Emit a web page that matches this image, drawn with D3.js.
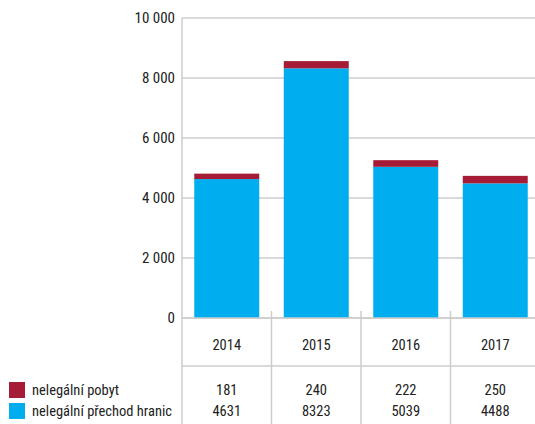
<!DOCTYPE html>
<html>
<head>
<meta charset="utf-8">
<script src="https://cdn.jsdelivr.net/npm/d3@7"></script>
<style>
  html, body { margin: 0; padding: 0; background: #fff; }
  svg { display: block; font-family: "Liberation Sans Narrow", "Roboto Condensed", "DejaVu Sans Condensed", sans-serif; }
</style>
</head>
<body>
<svg id="chart" width="535" height="424"></svg>
<script>
// Illegal migration by year: stacked bars with a data table beneath
const years = ["2014", "2015", "2016", "2017"];
const seriesNames = ["nelegální přechod hranic", "nelegální pobyt"];
const border = [4631, 8323, 5039, 4488];   // nelegální přechod hranic
const stay = [181, 240, 222, 250];         // nelegální pobyt
const yTicks = [0, 2000, 4000, 6000, 8000, 10000];
const colors = ["#00adee", "#a61c36"];

const svg = d3.select("#chart");
const plotLeft = 182, plotRight = 540, plotTop = 18, plotBottom = 318;

const x = d3.scaleBand().domain(years).range([plotLeft, plotRight]).paddingInner(0.274).paddingOuter(0.137);
const y = d3.scaleLinear().domain([0, 10000]).range([plotBottom, plotTop]);

const gridColor = "#cccccc";

// gridlines and y labels
const grid = svg.append("g");
grid.selectAll("line").data(yTicks).join("line")
  .attr("x1", plotLeft).attr("x2", 535)
  .attr("y1", d => y(d)).attr("y2", d => y(d))
  .attr("stroke", gridColor).attr("stroke-width", 1.5);
grid.selectAll("text").data(yTicks).join("text")
  .attr("x", plotLeft - 7).attr("y", d => y(d)).attr("dy", "0.35em")
  .attr("text-anchor", "end").attr("font-size", 15).attr("fill", "#222")
  .text(d => d === 0 ? "0" : d3.format(",")(d).replace(/,/g, " "));

// axis line and table lines
svg.append("line").attr("x1", plotLeft).attr("x2", plotLeft).attr("y1", plotTop).attr("y2", 424)
  .attr("stroke", gridColor).attr("stroke-width", 1.5);
const seps = years.slice(1).map(yr => x(yr) - x.step() * x.paddingInner() / 2);
svg.append("g").selectAll("line").data(seps).join("line")
  .attr("x1", d => d).attr("x2", d => d).attr("y1", 311).attr("y2", 424)
  .attr("stroke", gridColor).attr("stroke-width", 1.5);
svg.append("line").attr("x1", plotLeft).attr("x2", 535).attr("y1", 366).attr("y2", 366)
  .attr("stroke", gridColor).attr("stroke-width", 1.5);

// stacked bars
const rows = years.map((yr, i) => ({ year: yr, border: border[i], stay: stay[i] }));
const stack = d3.stack().keys(["border", "stay"])(rows);
svg.append("g").selectAll("g").data(stack).join("g")
  .attr("fill", (d, i) => colors[i])
  .selectAll("rect").data(d => d).join("rect")
  .attr("x", d => x(d.data.year))
  .attr("width", x.bandwidth())
  .attr("y", d => y(d[1]))
  .attr("height", d => y(d[0]) - y(d[1]));

// redraw zero line on top of bars
svg.append("line").attr("x1", plotLeft).attr("x2", 535).attr("y1", y(0)).attr("y2", y(0))
  .attr("stroke", gridColor).attr("stroke-width", 1.5);

// table text
const cx = yr => x(yr) + x.bandwidth() / 2;
svg.append("g").selectAll("text").data(years).join("text")
  .attr("x", cx).attr("y", 345).attr("dy", "0.35em").attr("text-anchor", "middle")
  .attr("font-size", 14.5).attr("fill", "#222").text(d => d);
svg.append("g").selectAll("text").data(stay).join("text")
  .attr("x", (d, i) => cx(years[i])).attr("y", 390).attr("dy", "0.35em").attr("text-anchor", "middle")
  .attr("font-size", 14.5).attr("fill", "#222").text(d => d);
svg.append("g").selectAll("text").data(border).join("text")
  .attr("x", (d, i) => cx(years[i])).attr("y", 411).attr("dy", "0.35em").attr("text-anchor", "middle")
  .attr("font-size", 14.5).attr("fill", "#222").text(d => d);

// legend
const legend = [
  { name: seriesNames[1], color: colors[1], y: 390 },
  { name: seriesNames[0], color: colors[0], y: 411 }
];
const lg = svg.append("g").selectAll("g").data(legend).join("g");
lg.append("rect").attr("x", 9).attr("y", d => d.y - 8).attr("width", 16).attr("height", 16).attr("fill", d => d.color);
lg.append("text").attr("x", 32).attr("y", d => d.y).attr("dy", "0.35em")
  .attr("font-size", 14.5).attr("fill", "#222").text(d => d.name);
</script>
</body>
</html>
